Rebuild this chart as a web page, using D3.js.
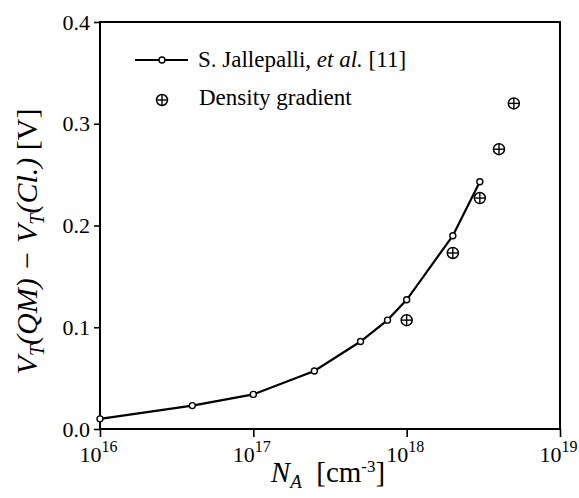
<!DOCTYPE html>
<html>
<head>
<meta charset="utf-8">
<script src="https://cdn.jsdelivr.net/npm/d3@7"></script>
<style>
    body { margin: 0; background: #fff; }
    svg { display: block; }
    text { font-family: "Liberation Serif", "Times New Roman", serif; fill: #000; }
</style>
</head>
<body>
<div id="chart"></div>
<script>
// S. Jallepalli et al. [11]
let jallepalliN = [1e16, 4e16, 1e17, 2.5e17, 5e17, 7.5e17, 1e18, 2e18, 3e18];
let jallepalliV = [0.010, 0.023, 0.034, 0.057, 0.086, 0.107, 0.127, 0.190, 0.243];

// Density gradient
let densityN = [1e18, 2e18, 3e18, 4e18, 5e18];
let densityV = [0.107, 0.173, 0.227, 0.275, 0.320];

let xTicks = [1e16, 1e17, 1e18, 1e19];
let yTicks = [0, 0.1, 0.2, 0.3, 0.4];

let margin = { top: 22, right: 19, bottom: 69, left: 100 };
let width = 579 - margin.left - margin.right;
let height = 498 - margin.top - margin.bottom;

let svg = d3.select("#chart").append("svg")
    .attr("width", 579)
    .attr("height", 498)
    .append("g")
    .attr("transform", "translate(" + margin.left + "," + margin.top + ")");

let x = d3.scaleLog()
    .domain([1e16, 1e19])
    .range([0, width]);

let y = d3.scaleLinear()
    .domain([0, 0.4])
    .range([height, 0]);

// axes
let yAxis = d3.axisLeft(y)
    .tickValues(yTicks)
    .tickFormat(d3.format(".1f"))
    .tickSizeInner(6)
    .tickSizeOuter(0)
    .tickPadding(4);

let xAxis = d3.axisBottom(x)
    .tickValues(xTicks)
    .tickFormat("")
    .tickSizeInner(8)
    .tickSizeOuter(0);

let gy = svg.append("g").attr("class", "y-axis").call(yAxis);
gy.attr("font-family", null).attr("font-size", null);
gy.selectAll("text")
    .style("font-size", "22px")
    .style("font-family", "'Liberation Serif', serif");

let gx = svg.append("g")
    .attr("class", "x-axis")
    .attr("transform", "translate(0," + height + ")")
    .call(xAxis);
gx.attr("font-family", null).attr("font-size", null);

gx.selectAll(".tick").each(function(d) {
    let t = d3.select(this).append("text")
        .attr("x", 0)
        .attr("y", 33)
        .attr("text-anchor", "start")
        .style("font-size", "22px");
    t.append("tspan").attr("x", -21).text("10");
    t.append("tspan")
        .attr("dy", -10)
        .style("font-size", "16px")
        .text(Math.round(Math.log10(d)));
});

svg.selectAll(".domain").remove();
svg.selectAll(".tick line").attr("stroke", "#000").attr("stroke-width", 1.6);

// frame
svg.append("rect")
    .attr("x", 0)
    .attr("y", 0)
    .attr("width", width)
    .attr("height", height)
    .attr("fill", "none")
    .attr("stroke", "#000")
    .attr("stroke-width", 2);

// line series
let line = d3.line()
    .x(function(d) { return x(d[0]); })
    .y(function(d) { return y(d[1]); });

let jallepalli = jallepalliN.map(function(n, i) { return [n, jallepalliV[i]]; });
let density = densityN.map(function(n, i) { return [n, densityV[i]]; });

svg.append("path")
    .datum(jallepalli)
    .attr("d", line)
    .attr("fill", "none")
    .attr("stroke", "#000")
    .attr("stroke-width", 2.2);

svg.selectAll(".jp")
    .data(jallepalli)
    .enter().append("circle")
    .attr("class", "jp")
    .attr("cx", function(d) { return x(d[0]); })
    .attr("cy", function(d) { return y(d[1]); })
    .attr("r", 3)
    .attr("fill", "#fff")
    .attr("stroke", "#000")
    .attr("stroke-width", 1.4);

function drawOplus(g, cx, cy) {
    let r = 5.5;
    g.append("circle")
        .attr("cx", cx).attr("cy", cy).attr("r", r)
        .attr("fill", "#fff").attr("stroke", "#000").attr("stroke-width", 1.5);
    g.append("line")
        .attr("x1", cx - r).attr("x2", cx + r).attr("y1", cy).attr("y2", cy)
        .attr("stroke", "#000").attr("stroke-width", 1.4);
    g.append("line")
        .attr("x1", cx).attr("x2", cx).attr("y1", cy - r).attr("y2", cy + r)
        .attr("stroke", "#000").attr("stroke-width", 1.4);
}

let dg = svg.append("g").attr("class", "density");
density.forEach(function(d) {
    drawOplus(dg, x(d[0]), y(d[1]));
});

// legend
let legend = svg.append("g").attr("transform", "translate(35,38)");
legend.append("line")
    .attr("x1", 0).attr("x2", 53).attr("y1", 0).attr("y2", 0)
    .attr("stroke", "#000").attr("stroke-width", 2.2);
legend.append("circle")
    .attr("cx", 27).attr("cy", 0).attr("r", 3)
    .attr("fill", "#fff").attr("stroke", "#000").attr("stroke-width", 1.4);
let l1 = legend.append("text")
    .attr("x", 63).attr("y", 7)
    .style("font-size", "23px");
l1.append("tspan").text("S. Jallepalli, ");
l1.append("tspan").style("font-style", "italic").text("et al.");
l1.append("tspan").text(" [11]");

drawOplus(legend, 27, 40);
legend.append("text")
    .attr("x", 64).attr("y", 45)
    .style("font-size", "23px")
    .text("Density gradient");

// x label
let xl = svg.append("text")
    .attr("x", width / 2 - 2)
    .attr("y", height + 53)
    .attr("text-anchor", "middle")
    .style("font-size", "29px");
xl.append("tspan").style("font-style", "italic").text("N");
xl.append("tspan").style("font-style", "italic").style("font-size", "19px").attr("dy", 6).text("A");
xl.append("tspan").attr("dy", -6).text("\u00a0 [cm");
xl.append("tspan").style("font-size", "17px").attr("dy", -10).text("-3");
xl.append("tspan").attr("dy", 10).text("]");

// y label
let yl = svg.append("text")
    .attr("transform", "translate(-63," + (height / 2 + 16) + ") rotate(-90)")
    .attr("text-anchor", "middle")
    .style("font-size", "30px");
yl.append("tspan").style("font-style", "italic").text("V");
yl.append("tspan").style("font-style", "italic").style("font-size", "20px").attr("dy", 7).text("T");
yl.append("tspan").attr("dy", -7).style("font-style", "italic").text("(QM) \u2212 V");
yl.append("tspan").style("font-style", "italic").style("font-size", "20px").attr("dy", 7).text("T");
yl.append("tspan").attr("dy", -7).style("font-style", "italic").text("(Cl.)");
yl.append("tspan").text(" [V]");
</script>
</body>
</html>
